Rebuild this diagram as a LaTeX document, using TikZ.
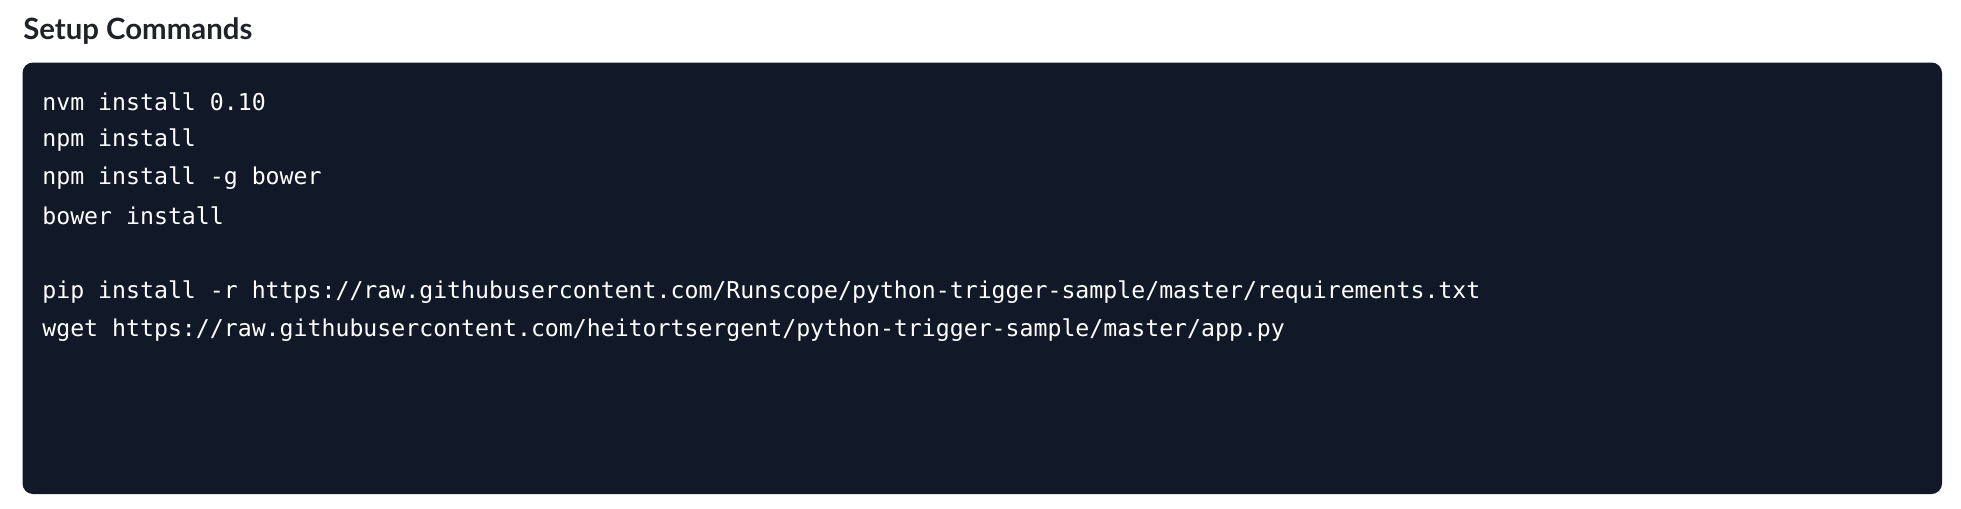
\documentclass[tikz,border=0pt]{standalone}
\usepackage{fontspec}
\setmonofont{DejaVu Sans Mono}
\newfontfamily\titlefont{Lato}
\usetikzlibrary{positioning}
\definecolor{codebg}{HTML}{111827}
\definecolor{titlegray}{HTML}{1F2328}

\begin{document}
\begin{tikzpicture}[x=0.02cm, y=-0.02cm,
    codeline/.style={anchor=west, inner sep=0pt, text=white, font=\ttfamily\fontsize{13.2}{16}\selectfont}]
    \useasboundingbox (0,0) rectangle (1961,508);
    \node (title) [anchor=west, inner sep=0pt, text=titlegray, font=\titlefont\bfseries\fontsize{16.7}{20}\selectfont] at (23,31) {Setup Commands};
    \fill[codebg, rounded corners=6] (22.5,62.5) rectangle (1942,494);

    \node (nvm)   [codeline] at (42,102) {nvm install 0.10};
    \node (npm)   [codeline] at (42,140) {npm install};
    \node (bower) [codeline] at (42,178) {npm install -g bower};
    \node (binst) [codeline] at (42,216) {bower install};
    \node (pip)   [codeline] at (42,292) {pip install -r https://raw.githubusercontent.com/Runscope/python-trigger-sample/master/requirements.txt};
    \node (wget)  [codeline] at (42,330) {wget https://raw.githubusercontent.com/heitortsergent/python-trigger-sample/master/app.py};
\end{tikzpicture}
\end{document}
